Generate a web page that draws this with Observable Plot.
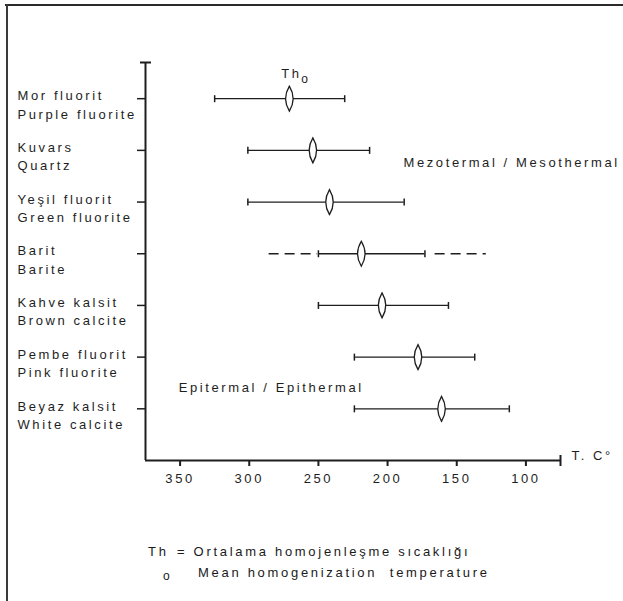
<!DOCTYPE html>
<html>
<head>
<meta charset="utf-8">
<script src="https://cdn.jsdelivr.net/npm/d3@7"></script>
<script src="https://cdn.jsdelivr.net/npm/@observablehq/plot@0.6"></script>
<style>
  html, body { margin: 0; padding: 0; background: #fff; }
  #wrap { position: relative; width: 623px; height: 601px; overflow: hidden; background: #fff; }
  #frameTop { position: absolute; left: 5px; top: 4px; width: 618px; height: 0; border-top: 2px solid #2a2a2a; }
  #frameLeft { position: absolute; left: 6px; top: 4px; width: 0; height: 597px; border-left: 2px solid #3a3a3a; }
  #chart { position: absolute; left: 0; top: 0; }
  #caption { position: absolute; left: 0; top: 530px; width: 623px; height: 71px;
    font-family: "Liberation Sans", "DejaVu Sans", sans-serif; font-size: 13px; color: #1a1a1a; letter-spacing: 2.7px; }
  #caption span { position: absolute; white-space: pre; line-height: 16px; }
</style>
</head>
<body>
<div id="wrap">
  <div id="chart"></div>
  <div id="caption">
    <span style="left:148px; top:14px;">Th</span>
    <span style="left:163px; top:38px; font-size:12px;">o</span>
    <span style="left:177px; top:14px;">= Ortalama homojenleşme sıcaklığı</span>
    <span style="left:198px; top:35px;">Mean homogenization  temperature</span>
  </div>
  <div id="frameTop"></div>
  <div id="frameLeft"></div>
</div>
<script>
// ---- data ----
const catsTr = ["Mor fluorit", "Kuvars", "Yeşil fluorit", "Barit", "Kahve kalsit", "Pembe fluorit", "Beyaz kalsit"];
const catsEn = ["Purple fluorite", "Quartz", "Green fluorite", "Barite", "Brown calcite", "Pink fluorite", "White calcite"];
const maxTemp = [325, 301, 301, 250, 250, 224, 224];   // left end (higher T)
const minTemp = [231, 213, 188, 173, 156, 137, 112];   // right end (lower T)
const meanTemp = [271, 254, 242, 219, 204, 178, 161];  // Th_o
// dashed (uncertain) extensions for Barite
const dashCat = [3, 3];
const dashFrom = [286, 166];
const dashTo = [251, 129];
const xTicks = [350, 300, 250, 200, 150, 100];
const xDomain = [375, 75];

const idx = d3.range(catsTr.length);
const ink = "#1e1e1e";

const lens = { draw(ctx) { ctx.moveTo(0, -12.5); ctx.quadraticCurveTo(7.5, 0, 0, 12.5); ctx.quadraticCurveTo(-7.5, 0, 0, -12.5); ctx.closePath(); } };
const vcap = { draw(ctx) { ctx.moveTo(0, -3.5); ctx.lineTo(0, 3.5); } };
const vcapBig = { draw(ctx) { ctx.moveTo(0, -5.5); ctx.lineTo(0, 5.5); } };
const hcap = { draw(ctx) { ctx.moveTo(-5.5, 0); ctx.lineTo(5.5, 0); } };

const font = "'Liberation Sans', 'DejaVu Sans', sans-serif";

const chart = Plot.plot({
  width: 623,
  height: 530,
  marginLeft: 145,
  marginRight: 63,
  marginTop: 62,
  marginBottom: 70,
  style: { fontFamily: font, fontSize: "13px", color: ink, letterSpacing: "2.6px", background: "transparent" },
  x: { domain: xDomain },
  y: { domain: [-0.7, 7.0], reverse: true },
  marks: [
    // axes lines
    Plot.ruleX([xDomain[0]], { stroke: ink, strokeWidth: 2 }),
    Plot.ruleY([7.0], { stroke: ink, strokeWidth: 2 }),
    Plot.dot([0], { x: () => xDomain[0], y: () => -0.7, symbol: hcap, stroke: ink, strokeWidth: 2, r: 5 }),
    Plot.dot([0], { x: () => xDomain[1], y: () => 7.0, symbol: vcapBig, stroke: ink, strokeWidth: 2, r: 5 }),
    // x axis ticks & labels
    Plot.axisX({ ticks: xTicks, tickSize: 6, tickPadding: 7, stroke: ink, strokeWidth: 2, fill: ink, label: null, fontSize: 13, style: { letterSpacing: "0.6px" } }),
    // y axis ticks
    Plot.axisY({ ticks: idx, tickSize: 8, tickFormat: () => "", stroke: ink, strokeWidth: 1.5, label: null }),
    // category labels (two lines)
    Plot.text(idx, {
      y: (i) => i, text: (i) => catsTr[i] + "\n" + catsEn[i], frameAnchor: "left",
      textAnchor: "start", dx: -128, dy: 5, lineAnchor: "middle", lineHeight: 1.4, fill: ink, fontSize: 13
    }),
    // ranges
    Plot.ruleY(idx, { y: (i) => i, x1: (i) => maxTemp[i], x2: (i) => minTemp[i], stroke: ink, strokeWidth: 1.3 }),
    Plot.link(d3.range(dashCat.length), {
      x1: (k) => dashFrom[k], x2: (k) => dashTo[k], y1: (k) => dashCat[k], y2: (k) => dashCat[k],
      stroke: ink, strokeWidth: 1.4, strokeDasharray: "10,6"
    }),
    Plot.dot(idx, { x: (i) => maxTemp[i], y: (i) => i, symbol: vcap, stroke: ink, strokeWidth: 1.5, r: 4 }),
    Plot.dot(idx, { x: (i) => minTemp[i], y: (i) => i, symbol: vcap, stroke: ink, strokeWidth: 1.5, r: 4 }),
    // mean markers
    Plot.dot(idx, { x: (i) => meanTemp[i], y: (i) => i, symbol: lens, fill: "white", stroke: ink, strokeWidth: 1.3, r: 8 }),
    // annotations
    Plot.text(["Th"], { x: 269.5, y: -0.49, text: (d) => d, fill: ink, fontSize: 13 }),
    Plot.text(["o"], { x: 259, y: -0.38, text: (d) => d, fill: ink, fontSize: 12 }),
    Plot.text(["Mezotermal / Mesothermal"], { x: 188.5, y: 1.25, text: (d) => d, textAnchor: "start", fill: ink, fontSize: 13 }),
    Plot.text(["Epitermal / Epithermal"], { x: 351, y: 5.6, text: (d) => d, textAnchor: "start", fill: ink, fontSize: 13 }),
    Plot.text(["T. C°"], { x: 67, y: 6.9, text: (d) => d, textAnchor: "start", fill: ink, fontSize: 13 })
  ]
});
document.getElementById("chart").appendChild(chart);
</script>
</body>
</html>
